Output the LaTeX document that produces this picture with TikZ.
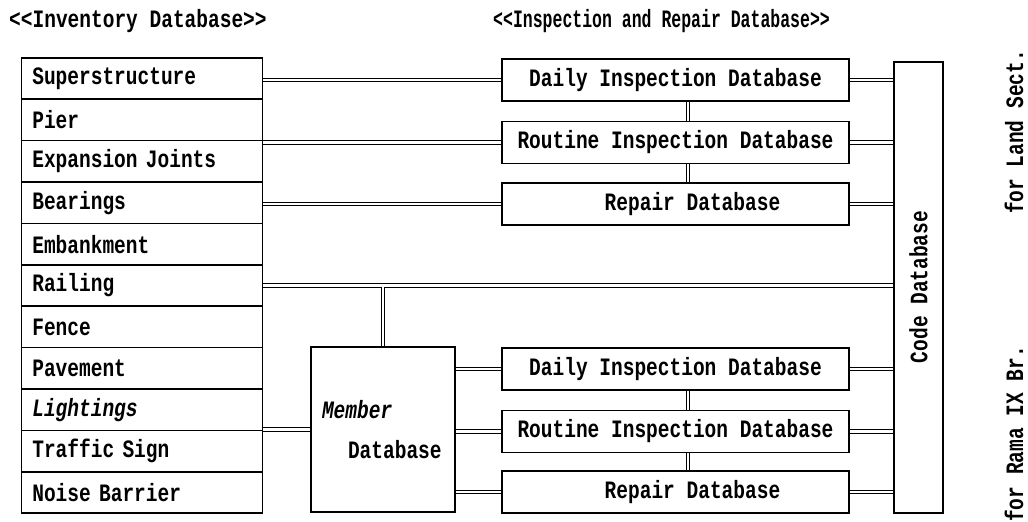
\documentclass[tikz,border=0pt]{standalone}
\usepackage{fontspec}
\newfontfamily\dbfont[FakeStretch=0.78]{Liberation Mono}
\newfontfamily\dbnarrow[FakeStretch=0.66]{Liberation Mono}
\tikzset{
  dbtext/.style={font=\dbfont\bfseries\fontsize{25}{27}\selectfont},
  frame/.style={draw, line width=1.6pt},
  cell/.style={frame, dbtext, anchor=north west, minimum width=241pt,
    minimum height=41.4pt, text width=219pt, align=left, inner xsep=11pt, inner ysep=0pt},
  dbbox/.style={frame, dbtext, minimum width=347pt, minimum height=42pt, inner sep=0pt},
  link/.style={draw, line width=1pt, double=white, double distance=2.4pt},
}
\begin{document}
\begin{tikzpicture}[x=1pt, y=-1pt]
\useasboundingbox[fill=white] (0,0) rectangle (1028,522);

% headings
\node[dbtext, anchor=west, inner sep=0pt] (invhead) at (9,21) {<{}<Inventory Database>{}>};
\node[dbtext, font=\dbnarrow\bfseries\fontsize{25}{27}\selectfont, anchor=west, inner sep=0pt]
  (irhead) at (493,21) {<{}<Inspection and Repair Database>{}>};

% inventory table
\foreach \t [count=\i] in {Superstructure, Pier, Expansion Joints, Bearings, Embankment,
  Railing, Fence, Pavement, {\itshape Lightings}, Traffic Sign, Noise Barrier}
  \node[cell] (row\i) at (20.5, {57+41.4*(\i-1)}) {\t};

% inspection and repair databases (land section)
\node[dbbox] (di1) at (675.5,80) {Daily Inspection Database};
\node[dbbox] (ri1) at (675.5,142.5) {Routine Inspection Database};
\node[dbbox] (rp1) at (675.5,204) {\hspace*{34pt}Repair Database};

% inspection and repair databases (Rama IX bridge)
\node[dbbox] (di2) at (675.5,369) {Daily Inspection Database};
\node[dbbox] (ri2) at (675.5,431.5) {Routine Inspection Database};
\node[dbbox] (rp2) at (675.5,492) {\hspace*{34pt}Repair Database};

% member database
\node[frame, dbtext, minimum width=144pt, minimum height=165pt, text width=122pt,
  align=left, inner xsep=11pt] (member) at (383,429.5)
  {{\itshape Member}\\[13pt]\hspace*{26pt}Database};

% code database
\node[frame, minimum width=49pt, minimum height=451pt, inner sep=0pt] (code) at (918.5,287.5) {};
\node[dbtext, rotate=90, inner sep=0pt] (codetxt) at (918.5,287) {Code Database};

% side notes
\node[dbtext, rotate=90, inner sep=0pt] (land) at (1014,132) {for Land Sect.};
\node[dbtext, rotate=90, inner sep=0pt] (rama) at (1014,434) {for Rama IX Br.};

% inventory to inspection and repair
\draw[link] (di1.west -| row1.east) -- (di1.west);
\draw[link] (ri1.west -| row2.east) -- (ri1.west);
\draw[link] (rp1.west -| row4.east) -- (rp1.west);
\draw[link] (row6.east) -- (row6.east -| code.west);
\draw[link] (member.west -| row9.east) -- (member.west);
\draw[link] (member.north) -- (member.north |- row6.east);

% member database to inspection and repair
\draw[link] (di2.west -| member.east) -- (di2.west);
\draw[link] (ri2.west -| member.east) -- (ri2.west);
\draw[link] (rp2.west -| member.east) -- (rp2.west);

% inspection chains
\draw[link] ([xshift=12.5pt]di1.south) -- ([xshift=12.5pt]ri1.north);
\draw[link] ([xshift=12.5pt]ri1.south) -- ([xshift=12.5pt]rp1.north);
\draw[link] ([xshift=12.5pt]di2.south) -- ([xshift=12.5pt]ri2.north);
\draw[link] ([xshift=12.5pt]ri2.south) -- ([xshift=12.5pt]rp2.north);

% to code database
\foreach \b in {di1, ri1, rp1, di2, ri2, rp2}
  \draw[link] (\b.east) -- (\b.east -| code.west);

% open the tee where the member link meets the railing link
\draw[white, line width=2.4pt] (row6.east) -- (row6.east -| code.west);
\end{tikzpicture}
\end{document}
